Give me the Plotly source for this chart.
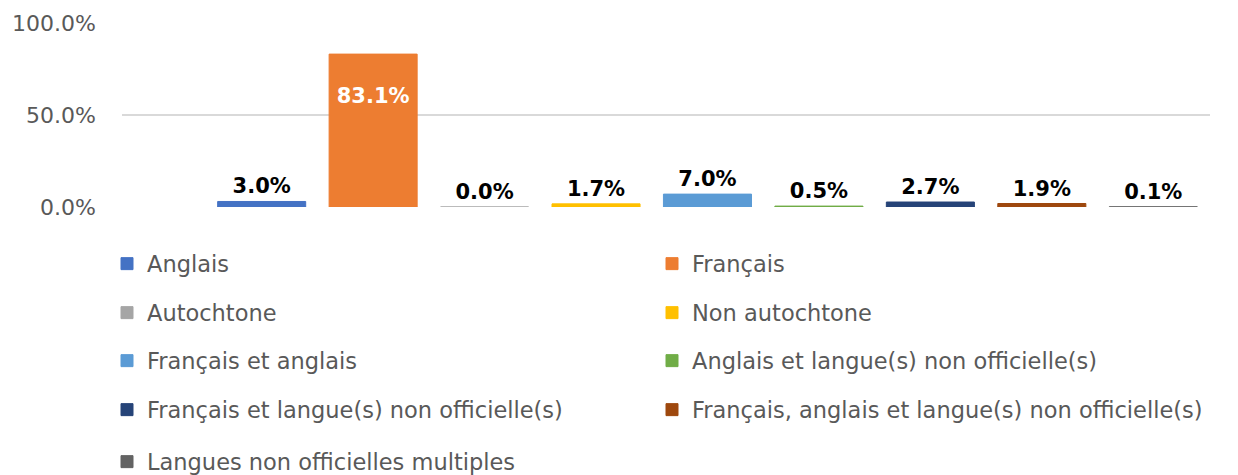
import plotly.graph_objects as go

series = ["Anglais", "Français", "Autochtone", "Non autochtone", "Français et anglais",
          "Anglais et langue(s) non officielle(s)", "Français et langue(s) non officielle(s)",
          "Français, anglais et langue(s) non officielle(s)", "Langues non officielles multiples"]
values = [3.0, 83.1, 0.0, 1.7, 7.0, 0.5, 2.7, 1.9, 0.1]
colors = ["#4472C4", "#ED7D31", "#A5A5A5", "#FFC000", "#5B9BD5",
          "#70AD47", "#264478", "#9E480E", "#636363"]
category = ["Total"]
y_ticks = [0, 50, 100]

FONT = "DejaVu Sans"
legend_rows_y = [264, 313, 361, 410, 462]
legend_cols_x = [107, 652]

fig = go.Figure()
for i, (name, v, c) in enumerate(zip(series, values, colors)):
    inside = v > 50
    fig.add_trace(go.Bar(
        x=category, y=[v], name=name, marker=dict(color=c, line=dict(width=1, color=c)),
        text=[("\u00a0<br>" if inside else "") + f"{v:.1f}%"], texttemplate="%{text}",
        textposition="inside" if inside else "outside",
        insidetextanchor="end",
        textfont=dict(family=FONT, size=21, color="white" if inside else "black", weight="bold"),
        cliponaxis=False, constraintext="none",
        legend="legend" if i == 0 else f"legend{i+1}",
    ))

layout = dict(
    width=1238, height=475,
    margin=dict(l=122, r=28, t=23, b=268, autoexpand=False),
    paper_bgcolor="white", plot_bgcolor="white",
    barmode="group", bargap=0, bargroupgap=0.21,
    showlegend=True,
    font=dict(family=FONT, color="#595959"),
    xaxis=dict(range=[-0.5837, 0.501], showticklabels=False, showgrid=False,
               zeroline=False, showline=False, ticks=""),
    yaxis=dict(range=[0, 100], tickvals=y_ticks, ticktext=[f"{t:.1f}%" for t in y_ticks],
               showgrid=True, gridcolor="#D9D9D9", gridwidth=2, zeroline=False,
               showline=False, ticks="", ticklabelstandoff=25,
               tickfont=dict(family=FONT, size=22, color="#595959")),
)
for i in range(len(series)):
    key = "legend" if i == 0 else f"legend{i+1}"
    layout[key] = dict(x=legend_cols_x[i % 2] / 1238, y=1 - legend_rows_y[i // 2] / 475,
                       xref="container", yref="container",
                       xanchor="left", yanchor="middle", orientation="v",
                       font=dict(family=FONT, size=22.5, color="#595959"),
                       bgcolor="rgba(0,0,0,0)")
fig.update_layout(**layout)

fig.write_html("out.html", config={"displayModeBar": False},
               post_script="document.body.style.margin='0';")
